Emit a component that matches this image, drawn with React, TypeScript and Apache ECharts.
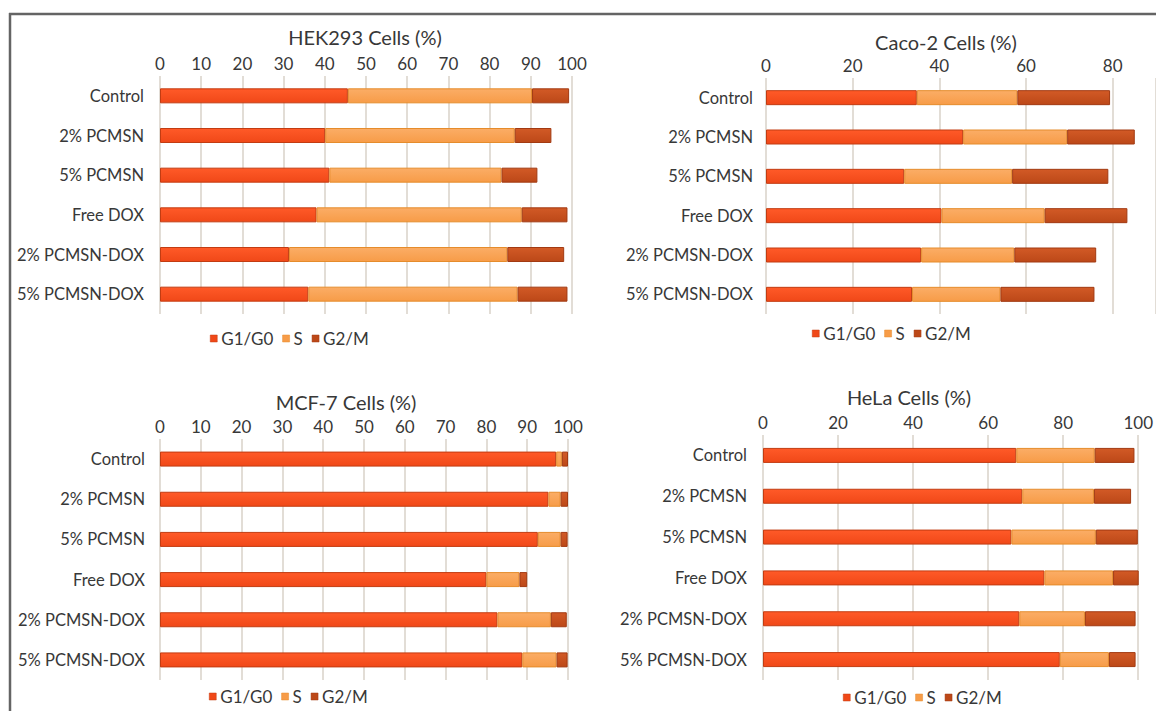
import React, { useEffect, useRef } from "react";
import * as echarts from "echarts";

// Treatment groups, top to bottom
const categories = [
  "Control",
  "2% PCMSN",
  "5% PCMSN",
  "Free DOX",
  "2% PCMSN-DOX",
  "5% PCMSN-DOX",
];
const phases = ["G1/G0", "S", "G2/M"];

// Cell-cycle distribution (%) per cell line
const hek293G1 = [45.6, 40.1, 41.1, 38.0, 31.3, 36.0];
const hek293S = [44.7, 46.0, 41.8, 49.8, 53.0, 50.8];
const hek293G2 = [9.0, 8.9, 8.7, 11.1, 13.8, 12.1];

const caco2G1 = [34.8, 45.5, 31.9, 40.5, 35.8, 33.7];
const caco2S = [23.2, 24.0, 24.9, 23.8, 21.5, 20.4];
const caco2G2 = [21.4, 15.6, 22.2, 19.1, 18.9, 21.7];

const mcf7G1 = [97.1, 95.2, 92.6, 80.0, 82.7, 88.8];
const mcf7S = [1.4, 3.0, 5.6, 8.1, 13.1, 8.4];
const mcf7G2 = [1.5, 1.8, 1.7, 1.9, 3.9, 2.7];

const helaG1 = [67.5, 69.1, 66.2, 75.0, 68.3, 79.1];
const helaS = [20.9, 19.1, 22.5, 18.3, 17.5, 13.1];
const helaG2 = [10.6, 9.9, 11.2, 7.0, 13.5, 7.1];

const panelTitles = [
  "HEK293 Cells (%)",
  "Caco-2 Cells (%)",
  "MCF-7 Cells (%)",
  "HeLa Cells (%)",
];

const FONT = "Lato, 'Open Sans', sans-serif";
const TEXT = "#383838";
const GRID_LINE = "#D8D2C9";

const phaseStyles = [
  { top: "#FF5A28", bottom: "#F04818", border: "#C23C12" },
  { top: "#FBAD66", bottom: "#F79C48", border: "#E58C2C" },
  { top: "#D25A26", bottom: "#BC4818", border: "#A23A12" },
];

type Panel = {
  values: number[][];
  max: number;
  interval: number;
  hideMax: boolean;
  left: number;
  width: number;
  top: number;
  height: number;
  titleX: number;
  titleY: number;
  legendX: number;
  legendTop: number;
  labelMargin: number;
};

const panels: Panel[] = [
  {
    values: [hek293G1, hek293S, hek293G2],
    max: 100, interval: 10, hideMax: false,
    left: 160, width: 412, top: 76, height: 238,
    titleX: 365, titleY: 37, legendX: 210, legendTop: 330, labelMargin: 16,
  },
  {
    values: [caco2G1, caco2S, caco2G2],
    max: 90, interval: 20, hideMax: true,
    left: 766, width: 406, top: 78, height: 236,
    titleX: 946, titleY: 42, legendX: 812, legendTop: 325, labelMargin: 13,
  },
  {
    values: [mcf7G1, mcf7S, mcf7G2],
    max: 100, interval: 10, hideMax: false,
    left: 160, width: 408, top: 439, height: 241,
    titleX: 346, titleY: 402, legendX: 209, legendTop: 688, labelMargin: 15,
  },
  {
    values: [helaG1, helaS, helaG2],
    max: 100, interval: 20, hideMax: false,
    left: 763, width: 377, top: 435, height: 245,
    titleX: 909, titleY: 397, legendX: 843, legendTop: 689, labelMargin: 16,
  },
];

export default function App() {
  const ref = useRef<HTMLDivElement>(null);

  useEffect(() => {
    if (!ref.current) return;
    const chart = echarts.init(ref.current, undefined, { renderer: "svg" });

    const grid = panels.map((p) => ({
      left: p.left,
      width: p.width,
      top: p.top,
      height: p.height,
      containLabel: false,
    }));

    const xAxis = panels.map((p, i) => ({
      type: "value",
      gridIndex: i,
      position: "top",
      min: 0,
      max: p.max,
      interval: p.interval,
      axisLine: { show: false },
      axisTick: { show: false },
      axisLabel: {
        color: TEXT,
        fontFamily: FONT,
        fontSize: 17,
        margin: 4,
        showMaxLabel: !p.hideMax,
      },
      splitLine: { show: true, lineStyle: { color: GRID_LINE, width: 1.5 } },
    }));

    const yAxis = panels.map((p, i) => ({
      type: "category",
      gridIndex: i,
      data: categories,
      inverse: true,
      axisLine: { show: false },
      axisTick: { show: false },
      splitLine: { show: false },
      axisLabel: {
        color: TEXT,
        fontFamily: FONT,
        fontSize: 16.5,
        margin: p.labelMargin,
      },
    }));

    const series: any[] = [];
    panels.forEach((p, i) => {
      phases.forEach((ph, k) => {
        const st = phaseStyles[k];
        series.push({
          type: "bar",
          name: ph,
          xAxisIndex: i,
          yAxisIndex: i,
          stack: "panel" + i,
          barWidth: 15,
          data: p.values[k],
          itemStyle: {
            color: new echarts.graphic.LinearGradient(0, 0, 0, 1, [
              { offset: 0, color: st.top },
              { offset: 1, color: st.bottom },
            ]),
            borderColor: st.border,
            borderWidth: 1,
          },
        });
      });
    });

    const legend = panels.map((p) => ({
      data: phases.map((ph, k) => ({
        name: ph,
        itemStyle: { color: phaseStyles[k].bottom, borderColor: phaseStyles[k].border, borderWidth: 0.5 },
      })),
      left: p.legendX,
      top: p.legendTop,
      padding: 0,
      icon: "rect",
      itemWidth: 7,
      itemHeight: 7,
      itemGap: 9,
      selectedMode: false,
      textStyle: { color: TEXT, fontFamily: FONT, fontSize: 17, padding: [0, 0, 0, -1] },
    }));

    const graphic: any[] = panels.map((p, i) => ({
      type: "text",
      x: p.titleX,
      y: p.titleY,
      style: {
        text: panelTitles[i],
        fill: TEXT,
        font: `20px ${FONT}`,
        textAlign: "center",
        textVerticalAlign: "middle",
      },
    }));
    // frame around the figure
    graphic.push(
      { type: "line", shape: { x1: 9, y1: 14, x2: 1156, y2: 14 }, style: { stroke: "#646464", lineWidth: 2.5 } },
      { type: "line", shape: { x1: 10, y1: 13, x2: 10, y2: 711 }, style: { stroke: "#646464", lineWidth: 2.5 } }
    );

    chart.setOption({
      animation: false,
      backgroundColor: "#ffffff",
      grid,
      xAxis,
      yAxis,
      series,
      legend,
      graphic,
    });

    return () => chart.dispose();
  }, []);

  return (
    <div
      ref={ref}
      style={{ position: "absolute", left: 0, top: 0, width: 1156, height: 711 }}
    />
  );
}
